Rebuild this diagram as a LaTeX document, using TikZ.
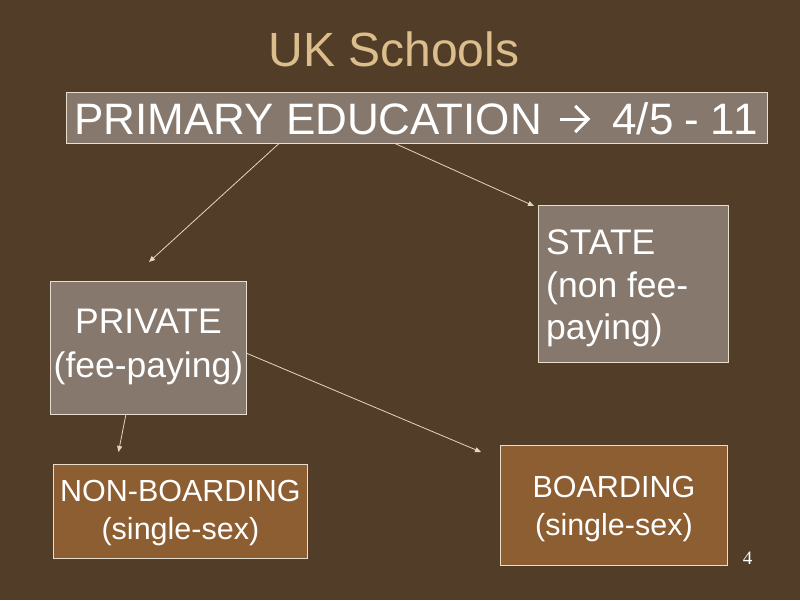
\documentclass[tikz,border=0pt]{standalone}
\usepackage{fontspec}
\setmainfont{Liberation Sans}
\newfontfamily\numfont{Liberation Serif}
\usetikzlibrary{arrows.meta}
\definecolor{bgc}{RGB}{82,62,40}
\definecolor{greybox}{RGB}{134,120,109}
\definecolor{brownbox}{RGB}{141,94,50}
\definecolor{titlec}{RGB}{220,190,140}
\definecolor{edgec}{RGB}{232,222,205}
\definecolor{linec}{RGB}{225,215,195}
\tikzset{
  gbox/.style={draw=edgec, line width=0.8pt, fill=greybox, inner sep=0pt, anchor=north west},
  bbox/.style={draw=edgec, line width=0.8pt, fill=brownbox, inner sep=0pt, anchor=north west},
  lbl/.style={text=white, inner sep=0pt},
  glyph/.style={draw=white, line width=3pt},
  conn/.style={draw=linec, line width=0.8pt, -{Triangle[length=6pt,width=5pt]}},
}
\begin{document}
\begin{tikzpicture}[x=1pt,y=-1pt]
\fill[bgc] (0,0) rectangle (800,600);
\useasboundingbox (0,0) rectangle (800,600);

\node[text=titlec, font=\fontsize{48}{52}\selectfont] (title) at (394,49) {UK Schools};

\node[gbox, minimum width=701pt, minimum height=51pt] (prim) at (66,92) {};
\node[lbl, anchor=base west, font=\fontsize{44}{48}\selectfont] (primt1) at (74,134.5)
  {PRIMARY EDUCATION};
\coordinate (ar0) at ([xshift=18pt,yshift=15.5pt]primt1.base east);
\coordinate (ar1) at ([xshift=46pt,yshift=15.5pt]primt1.base east);
\coordinate (ar2) at ([xshift=33pt,yshift=28.5pt]primt1.base east);
\coordinate (ar3) at ([xshift=33pt,yshift=2.5pt]primt1.base east);
\node[lbl, anchor=base west, font=\fontsize{44}{48}\selectfont] (primt2) at ([xshift=70pt]primt1.base east)
  {4/5\hspace{-1pt} -\hspace{-1pt} 1\hspace{-1.5pt}1};
\draw[glyph] (ar0) -- ([xshift=-1pt]ar1);
\draw[glyph, line join=miter] (ar2) -- (ar1) -- (ar3);

\node[gbox, minimum width=190pt, minimum height=157pt] (state) at (538,205) {};
\node[lbl, anchor=west, align=left, font=\fontsize{35.5}{42.5}\selectfont] (statet) at (546,288.5)
  {STATE\\(non fee-\\paying)};

\node[gbox, minimum width=196pt, minimum height=133pt] (priv) at (50,281) {};
\node[lbl, align=center, font=\fontsize{35.5}{44}\selectfont] (privt) at ([yshift=1pt]priv.center)
  {PRIVATE\\(fee-paying)};

\node[bbox, minimum width=254pt, minimum height=94pt] (nonb) at (53,464) {};
\node[lbl, align=center, font=\fontsize{30.5}{37.5}\selectfont] (nonbt) at ([yshift=-1.5pt]nonb.center)
  {NON-BOARDING\\(single-sex)};

\node[bbox, minimum width=227pt, minimum height=120pt] (board) at (500,445) {};
\node[lbl, align=center, font=\fontsize{30.5}{38}\selectfont] (boardt) at ([yshift=-4pt]board.center)
  {BOARDING\\(single-sex)};

\node[text=white, font=\numfont\fontsize{19}{22}\selectfont] (pnum) at (747.5,558.5) {4};

\coordinate (s1) at (279,143.5);
\coordinate (e1) at (149,262);
\coordinate (s2) at (395,143.5);
\coordinate (e2) at (534,206);
\coordinate (s3) at (246,353);
\coordinate (e3) at (481,452);
\coordinate (s4) at (126,414);
\coordinate (e4) at (118.5,452);

\draw[conn] (s1) -- (e1);
\draw[conn] (s2) -- (e2);
\draw[conn] (s3) -- (e3);
\draw[conn] (s4) -- (e4);
\end{tikzpicture}
\end{document}
